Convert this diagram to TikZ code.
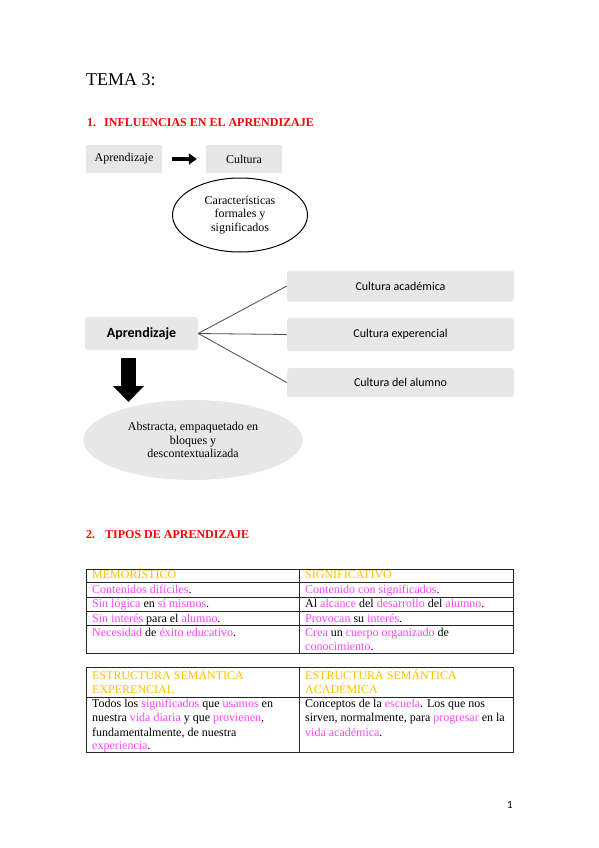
\documentclass[tikz,border=0pt]{standalone}
\usepackage{fontspec}
\setmainfont{Liberation Serif}
\newfontfamily\calibri{Carlito}
\usetikzlibrary{shapes.geometric,arrows.meta}
\definecolor{mag}{HTML}{FF44FF}
\definecolor{gold}{HTML}{FFC000}
\definecolor{boxgray}{HTML}{E7E7E7}
\newcommand{\mg}[1]{\textcolor{mag}{#1}}
\begin{document}
\begin{tikzpicture}[x=1pt,y=-1pt,
  txt/.style={anchor=base west, inner sep=0pt, font=\fontsize{12}{13.8}\selectfont},
  hd/.style={txt, text=red, font=\fontsize{12}{13.8}\selectfont\bfseries},
  gold/.style={txt, text=gold},
  gbox/.style={fill=boxgray, inner sep=0pt, font=\fontsize{12}{13.8}\selectfont},
  rbox/.style={fill=boxgray, rounded corners=3pt, inner sep=0pt, font=\calibri\fontsize{12}{14}\selectfont},
  tline/.style={draw=black!85, line width=0.7pt},
  link/.style={draw=black!70, line width=0.8pt}
]
\useasboundingbox[fill=white] (0,0) rectangle (599,848);

% title
\node[txt, font=\fontsize{18}{20}\selectfont] (tema) at (86,86) {TEMA 3:};
\node[hd] (h1) at (87,127) {\makebox[17pt][l]{1.}INFLUENCIAS EN EL APRENDIZAJE};

% diagram 1
\node[gbox, minimum width=76, minimum height=28] (ap1) at (124,159) {Aprendizaje};
\node[gbox, minimum width=76, minimum height=28] (cul) at (244,159) {Cultura};
\draw[line width=4.5pt, -{Triangle[length=8pt,width=11pt]}] ([xshift=10pt]ap1.east) -- ([xshift=-9pt]cul.west);
\node[ellipse, draw=black, line width=1pt, fill=white, minimum width=135, minimum height=74, inner sep=0pt, align=center,
  font=\fontsize{12}{13.3}\selectfont] (car) at (240,215) {Características\\formales y\\significados};

% diagram 2
\node[rbox, minimum width=227, minimum height=31] (ca) at (400.5,286) {Cultura académica};
\node[rbox, minimum width=227, minimum height=33] (ce) at (400.5,334.5) {Cultura experencial};
\node[rbox, minimum width=227, minimum height=29] (cda) at (400.5,382.5) {Cultura del alumno};
\node[rbox, minimum width=113, minimum height=33, font=\calibri\fontsize{14}{16}\selectfont\bfseries] (ap2) at (141.5,333.5) {Aprendizaje};
\draw[link] (ap2.east) -- (ca.west);
\draw[link] (ap2.east) -- (ce.west);
\draw[link] (ap2.east) -- (cda.west);

\node[ellipse, fill=boxgray, minimum width=219, minimum height=80, inner sep=0pt, align=center,
  font=\fontsize{12}{13.5}\selectfont] (abs) at (193,440) {Abstracta, empaquetado en\\bloques y\\descontextualizada};
\coordinate (dtip) at (128.5,402);
\draw[line width=15pt, -{Triangle[length=16pt,width=30pt]}] ([xshift=-13pt,yshift=-8pt]ap2.south) -- (dtip);

% section 2
\node[hd] (h2) at (86,538) {\makebox[19pt][l]{2.}TIPOS DE APRENDIZAJE};

% table 1
\draw[tline] (86,569) rectangle (513,653);
\foreach \yy in {582,597,611,625} \draw[tline] (86,\yy) -- (513,\yy);
\draw[tline] (299,569) -- (299,653);
\node[gold] (m1) at (92,578.3) {MEMORÍSTICO};
\node[gold] (s1) at (305,578.3) {SIGNIFICATIVO};
\node[txt] (m2) at (92,593.3) {\mg{Contenidos difíciles}.};
\node[txt] (s2) at (305,593.3) {\mg{Contenido con significados}.};
\node[txt] (m3) at (92,607.7) {\mg{Sin lógica} en \mg{sí mismos}.};
\node[txt] (s3) at (305,607.7) {Al \mg{alcance} del \mg{desarrollo} del \mg{alumno}.};
\node[txt] (m4) at (92,622.3) {\mg{Sin interés} para el \mg{alumno}.};
\node[txt] (s4) at (305,622.3) {\mg{Provocan} su \mg{interés}.};
\node[txt] (m5) at (92,636.3) {\mg{Necesidad} de \mg{éxito educativo}.};
\node[txt] (s5) at (305,636.3) {\mg{Crea} un \mg{cuerpo organizado} de};
\node[txt] (s5b) at (305,650.5) {\mg{conocimiento}.};

% table 2
\draw[tline] (86,667) rectangle (513,752);
\draw[tline] (86,697) -- (513,697);
\draw[tline] (299,667) -- (299,752);
\node[gold] (e1) at (92,679) {ESTRUCTURA SEMÁNTICA};
\node[gold] (e2) at (92,693.3) {EXPERENCIAL};
\node[gold] (a1) at (305,679) {ESTRUCTURA SEMÁNTICA};
\node[gold] (a2) at (305,693.3) {ACADÉMICA};
\node[txt] (l1) at (92,707.4) {Todos los \mg{significados} que \mg{usamos} en};
\node[txt] (l2) at (92,721.8) {nuestra \mg{vida diaria} y que \mg{provienen},};
\node[txt] (l3) at (92,736) {fundamentalmente, de nuestra};
\node[txt] (l4) at (92,749.6) {\mg{experiencia}.};
\node[txt] (r1) at (305,707.4) {Conceptos de la \mg{escuela}. Los que nos};
\node[txt] (r2) at (305,721.8) {sirven, normalmente, para \mg{progresar} en la};
\node[txt] (r3) at (305,736) {\mg{vida académica}.};

% page number
\node[txt, font=\calibri\fontsize{11}{13}\selectfont] (pg) at (507,808) {1};
\end{tikzpicture}
\end{document}
